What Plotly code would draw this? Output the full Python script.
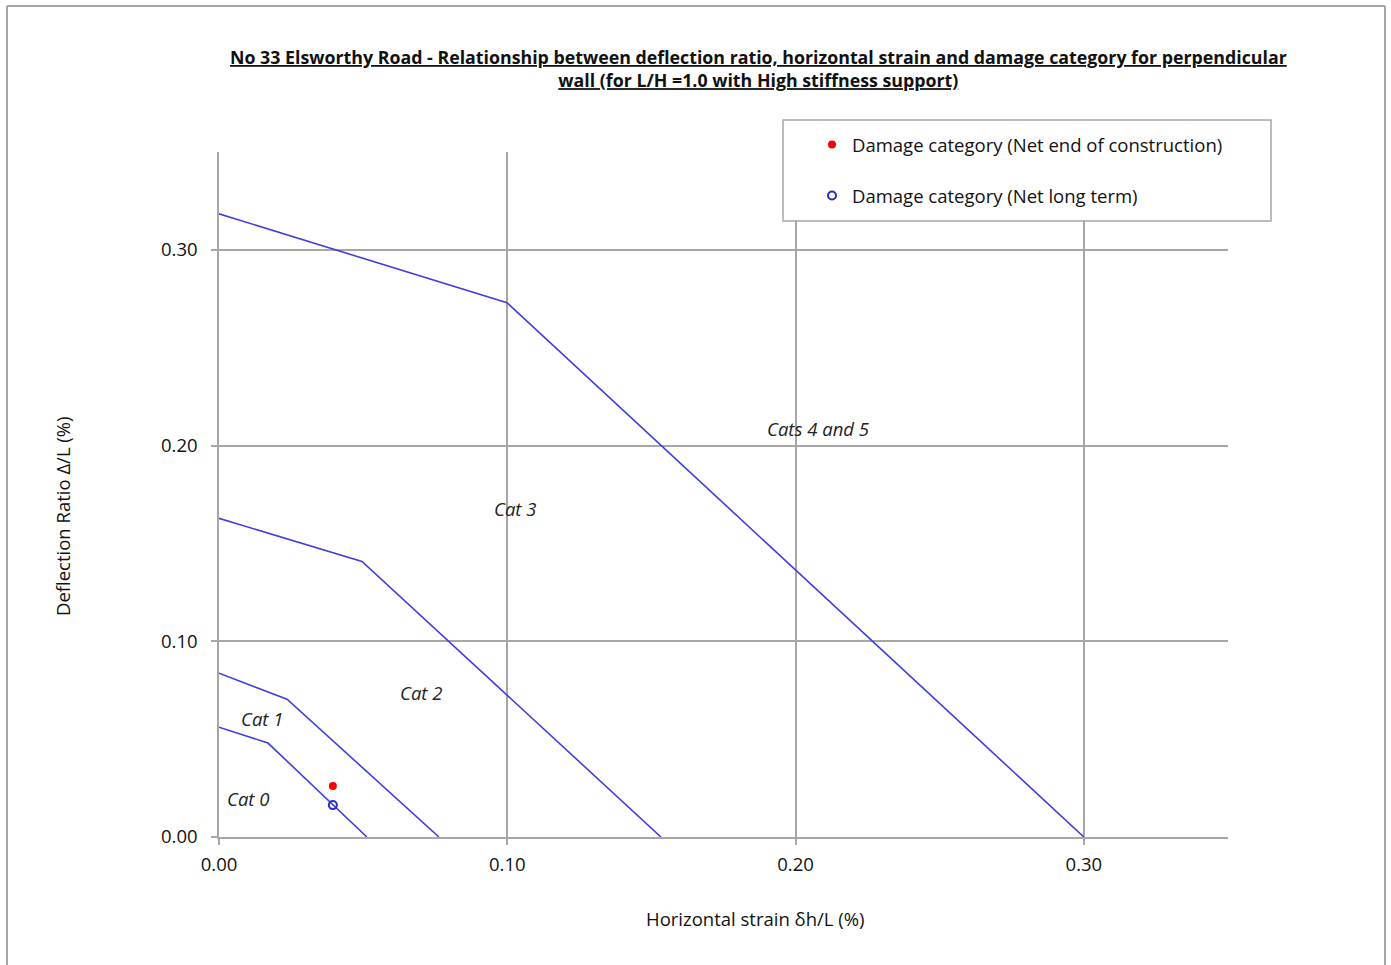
import plotly.graph_objects as go

# Boundary lines (horizontal strain %, deflection ratio %)
cat0_x = [0.0, 0.017, 0.0513]
cat0_y = [0.0561, 0.048, 0.0]
cat1_x = [0.0, 0.0236, 0.0763]
cat1_y = [0.0837, 0.0704, 0.0]
cat2_x = [0.0, 0.0496, 0.1533]
cat2_y = [0.1628, 0.1408, 0.0]
cat3_x = [0.0, 0.0999, 0.300]
cat3_y = [0.3184, 0.273, 0.0]

# Damage points
end_constr_x = [0.0395]
end_constr_y = [0.026]
long_term_x = [0.0395]
long_term_y = [0.0163]

# Labels
label_text = ["Cat 0", "Cat 1", "Cat 2", "Cat 3", "Cats 4 and 5"]
label_x = [0.0101, 0.0149, 0.070, 0.1027, 0.2078]
label_y = [0.0199, 0.0607, 0.074, 0.168, 0.2087]

tick_vals = [0.0, 0.1, 0.2, 0.3]
tick_text = ["0.00", "0.10", "0.20", "0.30"]

W, H = 1391, 965
L, R, T, B = 219, 1228, 152, 837
pw, ph = R - L, B - T

def px(x):
    return (x - L) / pw

def py(y):
    return (B - y) / ph

FONT = "Open Sans, Liberation Sans, sans-serif"
FS = 18.5
LINE_COLOR = "#3f3fe0"
GRID = "#a6a6a6"

fig = go.Figure()
for xs, ys in [(cat0_x, cat0_y), (cat1_x, cat1_y), (cat2_x, cat2_y), (cat3_x, cat3_y)]:
    fig.add_trace(go.Scatter(x=xs, y=ys, mode="lines", showlegend=False,
                             line=dict(color=LINE_COLOR, width=1.6), hoverinfo="skip"))

fig.add_trace(go.Scatter(x=end_constr_x, y=end_constr_y, mode="markers",
                         name="Damage category (Net end of construction)",
                         legendgroup="a",
                         marker=dict(color="#ff0000", size=8, symbol="circle")))
fig.add_trace(go.Scatter(x=long_term_x, y=long_term_y, mode="markers",
                         name="Damage category (Net long term)",
                         legendgroup="b",
                         marker=dict(color="#2a2ad0", size=8, symbol="circle-open",
                                     line=dict(width=2))))

for t, x, y in zip(label_text, label_x, label_y):
    fig.add_annotation(x=x, y=y, text="<i>" + t + "</i>", showarrow=False,
                       xanchor="center", yanchor="middle",
                       font=dict(family=FONT, size=FS, color="#222"))

# Legend box
fig.add_shape(type="rect", xref="paper", yref="paper",
              x0=px(783), x1=px(1271), y0=py(221), y1=py(120),
              line=dict(color=GRID, width=1.5), fillcolor="white", layer="above")

# Outer frame
for (x0, y0, x1, y1) in [(7, 6, 1385, 6), (7, 6, 7, 965), (1385, 6, 1385, 965)]:
    fig.add_shape(type="line", xref="paper", yref="paper",
                  x0=px(x0), y0=py(y0), x1=px(x1), y1=py(y1),
                  line=dict(color=GRID, width=2))

# Title
fig.add_annotation(xref="paper", yref="paper", x=px(758), y=py(69),
                   text="<b><u>No 33 Elsworthy Road - Relationship between deflection ratio, horizontal strain and damage category for perpendicular</u></b><br><b><u>wall (for L/H =1.0 with High stiffness support)</u></b>",
                   showarrow=False, xanchor="center", yanchor="middle",
                   font=dict(family=FONT, size=17.8, color="#111"))

# Axis titles
fig.add_annotation(xref="paper", yref="paper", x=px(755), y=py(918),
                   text="Horizontal strain δh/L (%)", showarrow=False,
                   xanchor="center", yanchor="middle",
                   font=dict(family=FONT, size=FS, color="#111"))
fig.add_annotation(xref="paper", yref="paper", x=px(62), y=py(516),
                   text="Deflection Ratio Δ/L (%)", showarrow=False, textangle=-90,
                   xanchor="center", yanchor="middle",
                   font=dict(family=FONT, size=FS, color="#111"))

fig.update_layout(
    width=W, height=H,
    margin=dict(l=L, r=W - R, t=T, b=H - B, pad=0),
    plot_bgcolor="white", paper_bgcolor="white",
    font=dict(family=FONT, size=FS, color="#111"),
    legend=dict(x=px(812), y=py(126), xanchor="left", yanchor="top",
                bgcolor="rgba(0,0,0,0)", borderwidth=0,
                traceorder="grouped", tracegroupgap=24,
                font=dict(family=FONT, size=FS, color="#111"),
                itemwidth=30),
    showlegend=True,
)
fig.update_xaxes(range=[0, 0.35], tickvals=tick_vals, ticktext=tick_text,
                 showgrid=True, gridcolor=GRID, gridwidth=1.5,
                 zeroline=False, showline=True, linecolor=GRID, linewidth=1.5,
                 ticks="outside", ticklen=6, tickcolor=GRID, tickwidth=1.5,
                 ticklabelstandoff=4,
                 tickfont=dict(size=FS))
fig.update_yaxes(range=[0, 0.35], tickvals=tick_vals, ticktext=tick_text,
                 showgrid=True, gridcolor=GRID, gridwidth=1.5,
                 zeroline=False, showline=True, linecolor=GRID, linewidth=1.5,
                 ticks="outside", ticklen=6, tickcolor=GRID, tickwidth=1.5,
                 ticklabelstandoff=10,
                 tickfont=dict(size=FS))

fig.write_html("out.html")
